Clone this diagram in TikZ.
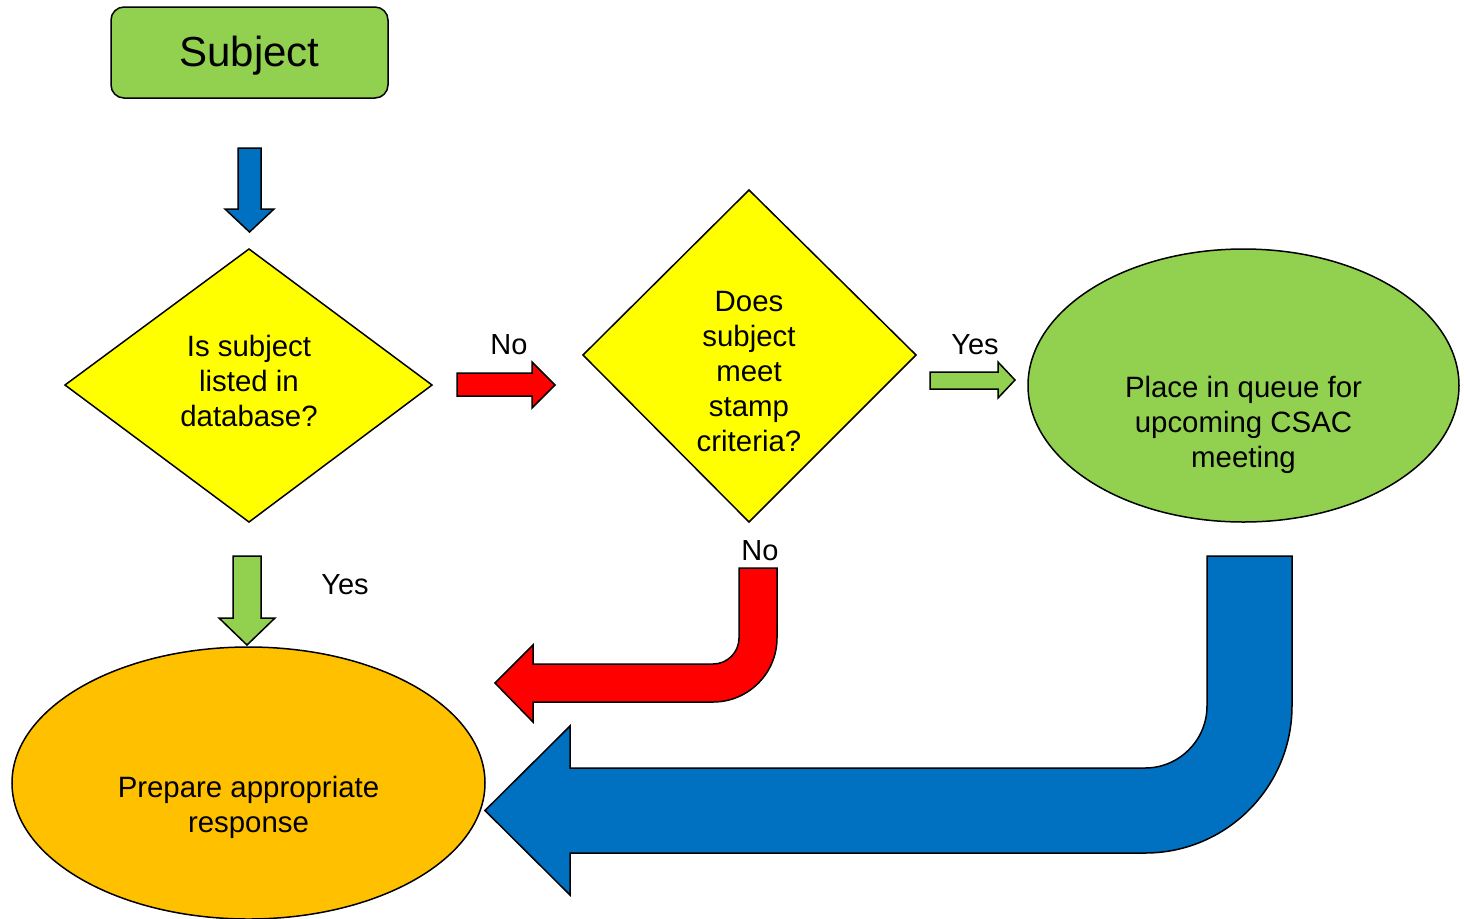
\documentclass[tikz,border=0pt]{standalone}
\usepackage{fontspec}
\setmainfont{Liberation Sans}
\definecolor{cgreen}{HTML}{92D050}
\definecolor{cyellow}{HTML}{FFFF00}
\definecolor{cred}{HTML}{FF0000}
\definecolor{cblue}{HTML}{0070C0}
\definecolor{corange}{HTML}{FFC000}
\tikzset{
  shapeline/.style={draw=black, line width=0.75pt, line join=miter},
  txt/.style={align=center, inner sep=0pt, font=\fontsize{14.7}{17.6}\selectfont},
  lbl/.style={inner sep=0pt, font=\fontsize{14.5}{17}\selectfont},
}
\begin{document}
\begin{tikzpicture}[x=0.5pt, y=-0.5pt]
\useasboundingbox (0,0) rectangle (1464,918);

% Subject box
\draw[shapeline, fill=cgreen, rounded corners=6.5pt] (111,7) rectangle (388,98);
\node[inner sep=0pt, font=\fontsize{21}{25}\selectfont] (subj) at (249.5,56) {Subject};

% blue down arrow
\draw[shapeline, fill=cblue] (238,148) -- (261,148) -- (261,209) -- (274,209) -- (249.5,232) -- (225,209) -- (238,209) -- cycle;

% diamond 1
\draw[shapeline, fill=cyellow] (65,385) -- (249,249) -- (432,385) -- (249,522) -- cycle;
\node[txt] (q1) at (249,381) {Is subject\\listed in\\database?};

% red right arrow
\draw[shapeline, fill=cred] (457,373) -- (532,373) -- (532,362) -- (555,385) -- (532,408) -- (532,396) -- (457,396) -- cycle;
\node[lbl] (no1) at (509,345) {No};

% diamond 2
\draw[shapeline, fill=cyellow] (583,355) -- (749,190) -- (916,355) -- (749,522) -- cycle;
\node[txt] (q2) at (749,371.5) {Does\\subject\\meet\\stamp\\criteria?};

% green right arrow
\draw[shapeline, fill=cgreen] (930,372) -- (998,372) -- (998,362) -- (1015,380) -- (998,398) -- (998,389) -- (930,389) -- cycle;
\node[lbl] (yes1) at (975,345) {Yes};

% green ellipse
\draw[shapeline, fill=cgreen] (1243.5,385.5) ellipse [x radius=107.75pt, y radius=68.25pt];
\node[txt] (queue) at (1243.5,425) {Place in queue for\\upcoming CSAC\\meeting};

% green down arrow
\draw[shapeline, fill=cgreen] (233,556) -- (261,556) -- (261,618) -- (275,618) -- (247,645) -- (219,618) -- (233,618) -- cycle;
\node[lbl] (yes2) at (345,585) {Yes};

% orange ellipse
\draw[shapeline, fill=corange] (248.5,783) ellipse [x radius=118.25pt, y radius=68pt];
\node[txt] (resp) at (248.5,807) {Prepare appropriate\\response};

% red bent arrow
\node[lbl] (no2) at (760,551) {No};
\draw[shapeline, fill=cred] (739,568) -- (777,568) -- (777,638)
  .. controls (777,673.3) and (748.3,702) .. (713,702)
  -- (533,702) -- (533,722) -- (495,683) -- (533,645) -- (533,664) -- (713,664)
  .. controls (727.4,664) and (739,652.4) .. (739,638) -- cycle;

% blue bent arrow
\draw[shapeline, fill=cblue] (1207,556) -- (1292,556) -- (1292,706)
  .. controls (1292,787.2) and (1226.2,853) .. (1145,853)
  -- (570,853) -- (570,895) -- (485,810.5) -- (570,726) -- (570,768) -- (1145,768)
  .. controls (1179.2,768) and (1207,740.2) .. (1207,706) -- cycle;
\end{tikzpicture}
\end{document}
